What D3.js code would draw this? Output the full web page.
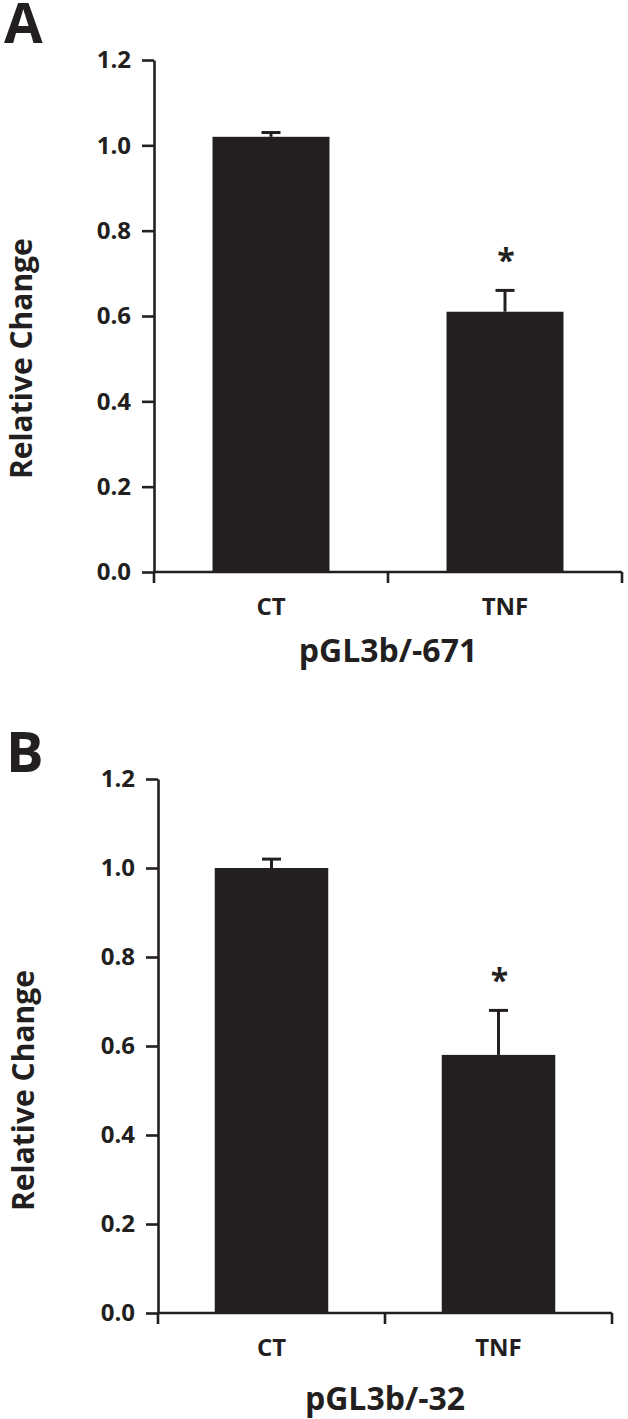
<!DOCTYPE html>
<html>
<head>
<meta charset="utf-8">
<script src="https://cdn.jsdelivr.net/npm/d3@7"></script>
<style>
  html, body { margin: 0; padding: 0; background: #fff; }
  svg { display: block; }
  text { font-family: "Open Sans", "DejaVu Sans", sans-serif; fill: #231f20; }
</style>
</head>
<body>
<div id="chart"></div>
<script>
const categories = ["CT", "TNF"];
const valuesA = [1.02, 0.61];
const errorsA = [0.01, 0.05];
const valuesB = [1.00, 0.58];
const errorsB = [0.02, 0.10];
const significant = [false, true];
const yTicks = [0, 0.2, 0.4, 0.6, 0.8, 1.0, 1.2];

(function () {
  "use strict";

  const ink = "#231f20";
  const svg = d3.select("#chart").append("svg").attr("width", 628).attr("height", 1419);

  function drawPanel(p) {
    const g = svg.append("g");
    const y = d3.scaleLinear().domain([0, 1.2]).range([p.bottom, p.top]);
    const x = d3.scaleBand().domain(categories).range([p.left, p.right]).paddingInner(0.5).paddingOuter(0.25);
    const mid = function (i) { return x(categories[i]) + x.bandwidth() / 2; };

    // panel letter
    g.append("text")
      .attr("x", p.letterX)
      .attr("y", p.letterY)
      .attr("font-size", 56)
      .attr("font-weight", 700)
      .text(p.letter);

    // y axis
    g.append("g")
      .attr("transform", "translate(" + p.left + ",0)")
      .call(d3.axisLeft(y).tickValues(yTicks).tickFormat(d3.format(".1f")).tickSize(12).tickPadding(11).tickSizeOuter(0))
      .call(function (a) {
        a.selectAll("path,line").attr("stroke", ink).attr("stroke-width", 2.6);
        a.selectAll("text").attr("fill", ink).attr("font-size", 24).attr("font-weight", 700)
          .attr("font-family", "'Open Sans', sans-serif");
      });

    // x axis line + ticks at band boundaries
    const step = x.step();
    const bounds = d3.range(categories.length + 1).map(function (i) { return p.left + i * step; });
    g.append("line")
      .attr("x1", p.left).attr("x2", p.right)
      .attr("y1", p.bottom).attr("y2", p.bottom)
      .attr("stroke", ink).attr("stroke-width", 2.6);
    g.selectAll(".xtick")
      .data(bounds)
      .enter()
      .append("line")
      .attr("x1", function (d) { return d; })
      .attr("x2", function (d) { return d; })
      .attr("y1", p.bottom)
      .attr("y2", p.bottom + 11)
      .attr("stroke", ink).attr("stroke-width", 2.6);

    g.selectAll(".xlab")
      .data(categories)
      .enter()
      .append("text")
      .attr("x", function (d) { return x(d) + x.bandwidth() / 2; })
      .attr("y", p.bottom + 43)
      .attr("text-anchor", "middle")
      .attr("font-size", 24)
      .attr("font-weight", 700)
      .text(function (d) { return d; });

    // bars
    g.selectAll(".bar")
      .data(p.values)
      .enter()
      .append("rect")
      .attr("x", function (_, i) { return x(categories[i]); })
      .attr("width", x.bandwidth())
      .attr("y", function (d) { return y(d); })
      .attr("height", function (d) { return y(0) - y(d); })
      .attr("fill", ink);

    // error bars (upper only)
    const eb = g.selectAll(".err")
      .data(p.values)
      .enter()
      .append("g");
    eb.append("line")
      .attr("x1", function (_, i) { return mid(i); })
      .attr("x2", function (_, i) { return mid(i); })
      .attr("y1", function (d) { return y(d); })
      .attr("y2", function (d, i) { return y(d + p.errors[i]); })
      .attr("stroke", ink).attr("stroke-width", 3);
    eb.append("line")
      .attr("x1", function (_, i) { return mid(i) - 9.5; })
      .attr("x2", function (_, i) { return mid(i) + 9.5; })
      .attr("y1", function (d, i) { return y(d + p.errors[i]); })
      .attr("y2", function (d, i) { return y(d + p.errors[i]); })
      .attr("stroke", ink).attr("stroke-width", 3);

    // significance
    const starIdx = d3.range(categories.length).filter(function (i) { return significant[i]; });
    g.selectAll(".star")
      .data(starIdx)
      .enter()
      .append("text")
      .attr("x", function (i) { return mid(i) + 1; })
      .attr("y", function (i) { return y(p.values[i] + p.errors[i]) - 18; })
      .attr("text-anchor", "middle")
      .attr("font-size", 32)
      .attr("font-weight", 700)
      .text("*");

    // axis titles
    g.append("text")
      .attr("transform", "translate(" + p.yLabelX + "," + y(0.5) + ") rotate(-90)")
      .attr("text-anchor", "middle")
      .attr("font-size", 30)
      .attr("font-weight", 700)
      .text("Relative Change");

    g.append("text")
      .attr("x", p.titleX)
      .attr("y", p.bottom + p.titleDy)
      .attr("text-anchor", "middle")
      .attr("font-size", 32)
      .attr("font-weight", 700)
      .text(p.title);
  }

  drawPanel({
    letter: "A", letterX: 4, letterY: 43,
    values: valuesA, errors: errorsA,
    left: 154, right: 622, top: 60, bottom: 572,
    yLabelX: 32, titleX: 388, titleDy: 90,
    title: "pGL3b/-671"
  });

  drawPanel({
    letter: "B", letterX: 6, letterY: 772,
    values: valuesB, errors: errorsB,
    left: 158, right: 612, top: 779, bottom: 1313,
    yLabelX: 34, titleX: 385, titleDy: 97,
    title: "pGL3b/-32"
  });
})();
</script>
</body>
</html>
